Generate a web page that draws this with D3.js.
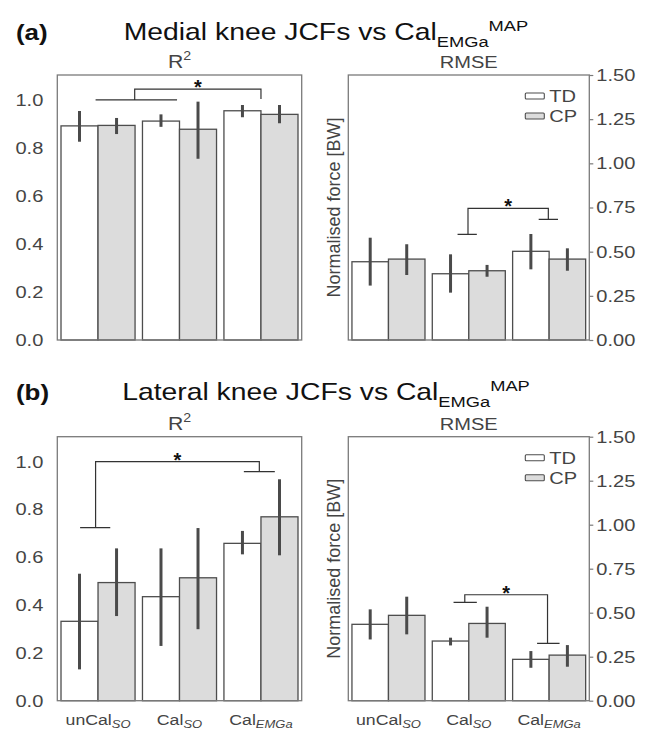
<!DOCTYPE html>
<html>
<head>
<meta charset="utf-8">
<script src="https://cdn.jsdelivr.net/npm/d3@7"></script>
<style>
  body { margin: 0; background: #fff; }
  svg { display: block; font-family: "Liberation Sans", Arial, sans-serif; }
</style>
</head>
<body>
<svg id="chart" width="646" height="731"></svg>
<script>
// Categories
const groups = ['unCal', 'Cal', 'Cal'];
const groupSubs = ['SO', 'SO', 'EMGa'];
const series = ['TD', 'CP'];
const r2Ticks = [0, 0.2, 0.4, 0.6, 0.8, 1.0];
const rmseTicks = [0, 0.25, 0.5, 0.75, 1.0, 1.25, 1.5];

// (a) Medial, R2
const medialR2TD = [0.892, 0.912, 0.955];
const medialR2TDLo = [0.826, 0.888, 0.928];
const medialR2TDHi = [0.954, 0.940, 0.979];
const medialR2CP = [0.894, 0.878, 0.940];
const medialR2CPLo = [0.858, 0.755, 0.903];
const medialR2CPHi = [0.925, 0.993, 0.979];

// (a) Medial, RMSE [BW]
const medialRmseTD = [0.443, 0.375, 0.502];
const medialRmseTDLo = [0.308, 0.268, 0.400];
const medialRmseTDHi = [0.579, 0.485, 0.600];
const medialRmseCP = [0.458, 0.392, 0.458];
const medialRmseCPLo = [0.368, 0.358, 0.392];
const medialRmseCPHi = [0.542, 0.425, 0.519];

// (b) Lateral, R2
const lateralR2TD = [0.332, 0.435, 0.658];
const lateralR2TDLo = [0.131, 0.229, 0.612];
const lateralR2TDHi = [0.531, 0.637, 0.710];
const lateralR2CP = [0.494, 0.514, 0.769];
const lateralR2CPLo = [0.354, 0.299, 0.608];
const lateralR2CPHi = [0.637, 0.722, 0.926];

// (b) Lateral, RMSE [BW]
const lateralRmseTD = [0.434, 0.339, 0.235];
const lateralRmseTDLo = [0.348, 0.314, 0.187];
const lateralRmseTDHi = [0.519, 0.358, 0.282];
const lateralRmseCP = [0.485, 0.439, 0.259];
const lateralRmseCPLo = [0.377, 0.358, 0.193];
const lateralRmseCPHi = [0.591, 0.534, 0.316];

// Significance brackets: x in group-index units, y in data units
const medialR2Sig = { capL: [-0.03, 0.97], yL: 1.0, stemL: 0.45, top: 1.045, stemR: 2.0, yR: 1.004, capR: [2.0, 2.0] };
const medialRmseSig = { capL: [0.86, 1.10], yL: 0.598, stemL: 0.99, top: 0.745, stemR: 1.99, yR: 0.683, capR: [1.87, 2.11] };
const lateralR2Sig = { capL: [-0.22, 0.15], yL: 0.724, stemL: -0.03, top: 1.0, stemR: 1.98, yR: 0.958, capR: [1.79, 2.17] };
const lateralRmseSig = { capL: [0.81, 1.10], yL: 0.559, stemL: 0.95, top: 0.602, stemR: 1.98, yR: 0.326, capR: [1.85, 2.13] };

const SX = 1.18;          // horizontal text stretch of the source figure
const textColor = '#444';
const frameColor = '#7a7a7a';
const barEdge = '#4d4d4d';
const errColor = '#4a4a4a';
const fills = { TD: '#ffffff', CP: '#dcdcdc' };

const svg = d3.select('#chart');

function widen(sel, x, y) {
  sel.attr('transform', `translate(${x},${y}) scale(${SX},1) translate(${-x},${-y})`);
}

function renderPanel(opts) {
  const { left, right, top, bottom, yMax, ticks, fmt, side, means, lo, hi, sig, subtitle, legend, xLabels } = opts;

  const x = d3.scaleBand().domain(d3.range(groups.length)).range([left, right]);
  const xSub = d3.scaleBand().domain(series).range([0, x.bandwidth()]).paddingOuter(0.1);
  const xi = d3.scaleLinear().domain([-0.5, groups.length - 0.5]).range([left, right]);
  const y = d3.scaleLinear().domain([0, yMax]).range([bottom, top]);

  const g = svg.append('g');

  // Bars and error bars
  series.forEach((s, si) => {
    g.append('g')
      .selectAll('rect')
      .data(means[si])
      .join('rect')
      .attr('x', (d, i) => x(i) + xSub(s))
      .attr('y', (d) => y(d))
      .attr('width', xSub.bandwidth())
      .attr('height', (d) => y(0) - y(d))
      .attr('fill', fills[s])
      .attr('stroke', barEdge)
      .attr('stroke-width', 1.3);

    g.append('g')
      .selectAll('line')
      .data(means[si])
      .join('line')
      .attr('x1', (d, i) => x(i) + xSub(s) + xSub.bandwidth() / 2)
      .attr('x2', (d, i) => x(i) + xSub(s) + xSub.bandwidth() / 2)
      .attr('y1', (d, i) => y(lo[si][i]))
      .attr('y2', (d, i) => y(hi[si][i]))
      .attr('stroke', errColor)
      .attr('stroke-width', 3);
  });

  // Frame
  g.append('rect')
    .attr('x', left).attr('y', top)
    .attr('width', right - left).attr('height', bottom - top)
    .attr('fill', 'none')
    .attr('stroke', frameColor)
    .attr('stroke-width', 1.3);

  // Axis
  const axis = side === 'left'
    ? d3.axisLeft(y).tickValues(ticks).tickFormat(d3.format(fmt)).tickSize(0).tickPadding(14)
    : d3.axisRight(y).tickValues(ticks).tickFormat(d3.format(fmt)).tickSize(4).tickPadding(3);
  const ax = g.append('g')
    .attr('transform', `translate(${side === 'left' ? left : right},0)`)
    .call(axis);
  ax.select('.domain').remove();
  ax.selectAll('line').attr('stroke', frameColor).attr('stroke-width', 1.2);
  ax.selectAll('text')
    .attr('font-size', 17)
    .attr('fill', textColor)
    .attr('font-family', '"Liberation Sans", Arial, sans-serif')
    .each(function () {
      const t = d3.select(this);
      widen(t, +t.attr('x'), 0);
    });

  // Subtitle
  const st = g.append('text')
    .attr('x', (left + right) / 2)
    .attr('y', top - 7)
    .attr('text-anchor', 'middle')
    .attr('font-size', subtitle[1] ? 18 : 17)
    .attr('fill', textColor);
  st.append('tspan').text(subtitle[0]);
  if (subtitle[1]) st.append('tspan').attr('font-size', 12).attr('dy', -8).text(subtitle[1]);
  widen(st, (left + right) / 2, top - 7);

  // Significance bracket
  const b = d3.path();
  b.moveTo(xi(sig.capL[0]), y(sig.yL));
  b.lineTo(xi(sig.capL[1]), y(sig.yL));
  b.moveTo(xi(sig.stemL), y(sig.yL));
  b.lineTo(xi(sig.stemL), y(sig.top));
  b.lineTo(xi(sig.stemR), y(sig.top));
  b.lineTo(xi(sig.stemR), y(sig.yR));
  b.moveTo(xi(sig.capR[0]), y(sig.yR));
  b.lineTo(xi(sig.capR[1]), y(sig.yR));
  g.append('path')
    .attr('d', b.toString())
    .attr('fill', 'none')
    .attr('stroke', '#333')
    .attr('stroke-width', 1.2);

  g.append('text')
    .attr('x', xi((sig.stemL + sig.stemR) / 2))
    .attr('y', y(sig.top) + 5)
    .attr('text-anchor', 'middle')
    .attr('font-size', 20)
    .attr('font-weight', 'bold')
    .attr('fill', '#111')
    .text('*');

  // Legend
  if (legend) {
    const lg = g.append('g');
    series.forEach((s, si) => {
      const cy = top + 21 + si * 20;
      lg.append('rect')
        .attr('x', right - 64).attr('y', cy - 3)
        .attr('width', 19).attr('height', 6)
        .attr('rx', 1)
        .attr('fill', fills[s])
        .attr('stroke', barEdge)
        .attr('stroke-width', 1.1);
      const t = lg.append('text')
        .attr('x', right - 40).attr('y', cy + 6)
        .attr('font-size', 17)
        .attr('fill', textColor)
        .text(s);
      widen(t, right - 40, cy + 6);
    });
  }

  // Y label on the right panels
  if (side === 'right') {
    g.append('text')
      .attr('transform', `translate(${left - 8},${(top + bottom) / 2}) rotate(-90)`)
      .attr('text-anchor', 'middle')
      .attr('font-size', 18)
      .attr('fill', textColor)
      .text('Normalised force [BW]');
  }

  // Category labels
  if (xLabels) {
    groups.forEach((name, i) => {
      const cx = x(i) + x.bandwidth() / 2;
      const t = g.append('text')
        .attr('x', cx).attr('y', bottom + 24)
        .attr('text-anchor', 'middle')
        .attr('font-size', 15)
        .attr('fill', textColor);
      t.append('tspan').text(name);
      t.append('tspan')
        .attr('font-size', 11)
        .attr('font-style', 'italic')
        .attr('dy', 3)
        .text(groupSubs[i]);
      widen(t, cx, bottom + 24);
    });
  }
}

function renderTitle(label, name, baseline) {
  const l = svg.append('text')
    .attr('x', 16).attr('y', baseline)
    .attr('font-size', 22)
    .attr('font-weight', 'bold')
    .attr('fill', '#111')
    .text(label);
  widen(l, 16, baseline);

  const t = svg.append('text')
    .attr('x', 326).attr('y', baseline)
    .attr('text-anchor', 'middle')
    .attr('font-size', 24)
    .attr('fill', '#111');
  t.append('tspan').text(`${name} knee JCFs vs Cal`);
  t.append('tspan').attr('font-size', 15.5).attr('dy', 7).text('EMGa');
  t.append('tspan').attr('font-size', 15.5).attr('dy', -16).text('MAP');
  widen(t, 326, baseline);
}

renderTitle('(a)', 'Medial', 40);
renderTitle('(b)', 'Lateral', 400);

renderPanel({
  left: 57.3, right: 301.7, top: 75, bottom: 340, yMax: 1.104,
  ticks: r2Ticks, fmt: '.1f', side: 'left',
  means: [medialR2TD, medialR2CP], lo: [medialR2TDLo, medialR2CPLo], hi: [medialR2TDHi, medialR2CPHi],
  sig: medialR2Sig, subtitle: ['R', '2'], legend: false, xLabels: false,
});
renderPanel({
  left: 348.3, right: 589.3, top: 75, bottom: 340, yMax: 1.5,
  ticks: rmseTicks, fmt: '.2f', side: 'right',
  means: [medialRmseTD, medialRmseCP], lo: [medialRmseTDLo, medialRmseCPLo], hi: [medialRmseTDHi, medialRmseCPHi],
  sig: medialRmseSig, subtitle: ['RMSE'], legend: true, xLabels: false,
});
renderPanel({
  left: 57.3, right: 301.7, top: 436.7, bottom: 700.7, yMax: 1.104,
  ticks: r2Ticks, fmt: '.1f', side: 'left',
  means: [lateralR2TD, lateralR2CP], lo: [lateralR2TDLo, lateralR2CPLo], hi: [lateralR2TDHi, lateralR2CPHi],
  sig: lateralR2Sig, subtitle: ['R', '2'], legend: false, xLabels: true,
});
renderPanel({
  left: 348.3, right: 589.3, top: 436.7, bottom: 700.7, yMax: 1.5,
  ticks: rmseTicks, fmt: '.2f', side: 'right',
  means: [lateralRmseTD, lateralRmseCP], lo: [lateralRmseTDLo, lateralRmseCPLo], hi: [lateralRmseTDHi, lateralRmseCPHi],
  sig: lateralRmseSig, subtitle: ['RMSE'], legend: true, xLabels: true,
});
</script>
</body>
</html>
